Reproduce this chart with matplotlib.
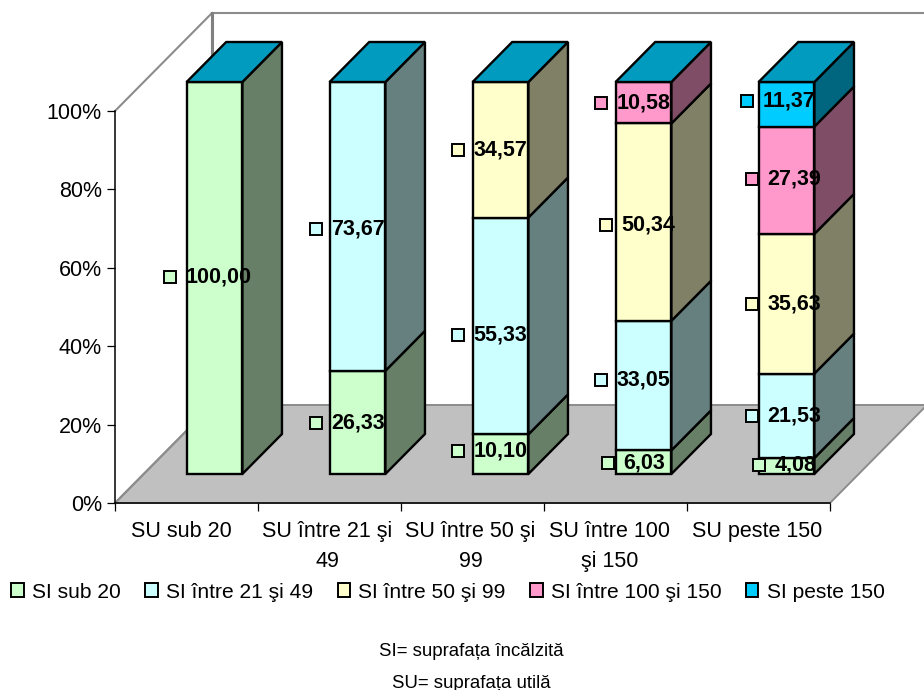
import matplotlib
matplotlib.use("Agg")
import matplotlib.pyplot as plt
from matplotlib.patches import Polygon, Patch
from matplotlib.transforms import Affine2D

plt.rcParams['font.family'] = ['Liberation Sans', 'DejaVu Sans']

W, H = 924, 690
categories = ["SU sub 20", "SU între 21 şi\n49", "SU între 50 şi\n99", "SU între 100\nşi 150", "SU peste 150"]
series_names = ["SI sub 20", "SI între 21 şi 49", "SI între 50 şi 99", "SI între 100 şi 150", "SI peste 150"]
si_sub_20 = [100.00, 26.33, 10.10, 6.03, 4.08]
si_21_49 = [0, 73.67, 55.33, 33.05, 21.53]
si_50_99 = [0, 0, 34.57, 50.34, 35.63]
si_100_150 = [0, 0, 0, 10.58, 27.39]
si_peste_150 = [0, 0, 0, 0, 11.37]
series = [si_sub_20, si_21_49, si_50_99, si_100_150, si_peste_150]
yticks = [0, 20, 40, 60, 80, 100]
ytick_labels = ["0%", "20%", "40%", "60%", "80%", "100%"]

front = ["#CCFFCC", "#CCFFFF", "#FFFFCC", "#FF99CC", "#00CCFF"]
side = ["#667F66", "#668080", "#808066", "#804D66", "#006680"]
top_col = "#009BBF"
wall = "#8C8C8C"

# pixel nudges of each label from the bar centre / segment middle, by series then category
nudge_x = [[3, 0, -1, 0, 8], [0, 0, -1, -1, 7], [0, 0, -1, 4, 7], [0, 0, 0, -1, 7], [0, 0, 0, 0, 2]]
nudge_y = [[1, -1, 3, -1, 1], [0, -3, -9, 6, 0], [0, 0, 0, -3, 0], [0, 0, 0, 0, 1], [0, 0, 0, 0, 3]]
tick_nudge = [-5, -2, -2, -6, -1]

fig = plt.figure(figsize=(W / 100, H / 100), dpi=100)
L, R, T, B = 115, 830, 111, 503
ax = fig.add_axes([L / W, 1 - B / H, (R - L) / W, (B - T) / H])
ax.set_xlim(0, 5)
ax.set_ylim(0, 100)
ax.patch.set_visible(False)
FS = 15.5

DX = 97 / 143
DY = 25.0


def P(x, y, d):
    return (x + d * DX, y + d * DY)


def poly(pts, fc, ec, lw, z):
    ax.add_patch(Polygon(pts, closed=True, facecolor=fc, edgecolor=ec, lw=lw, zorder=z,
                         clip_on=False, joinstyle='miter'))


# floor and walls
poly([P(0, 0, 0), P(5, 0, 0), P(5, 0, 1), P(0, 0, 1)], "#C0C0C0", wall, 1.4, 1)
xmax = 5 + (924 - R) / 143
ax.plot(*zip(P(0, 0, 0), P(0, 0, 1), P(0, 100, 1), P(0, 100, 0)), color=wall, lw=1.5, zorder=1.5, clip_on=False)
ax.plot(*zip(P(0, 100, 1), (xmax, 100 + DY)), color=wall, lw=1.5, zorder=1.5, clip_on=False)
ax.plot(*zip(P(0, 0, 1), P(0, 100, 1)), color="#808080", lw=2.2, zorder=1.5, clip_on=False)

# bars
D0, D1 = 29 / 98, 69 / 98
BW = 0.195
z = 2
for c in range(5):
    x0, x1 = c + 0.495 - BW, c + 0.495 + BW
    base = 0
    for s, vals in enumerate(series):
        v = vals[c]
        if v > 0:
            t = base + v
            poly([P(x1, base, D0), P(x1, base, D1), P(x1, t, D1), P(x1, t, D0)], side[s], "black", 1.7, z)
            poly([P(x0, base, D0), P(x1, base, D0), P(x1, t, D0), P(x0, t, D0)], front[s], "black", 1.7, z)
            base = t
    poly([P(x0, 100, D0), P(x1, 100, D0), P(x1, 100, D1), P(x0, 100, D1)], top_col, "black", 1.7, z)
    z += 0.1

# data labels with legend keys
for c in range(5):
    base = 0
    for s, vals in enumerate(series):
        v = vals[c]
        if v > 0:
            xy = P(c + 0.5, base + v / 2, D0)
            base += v
            txt = f"{v:.2f}".replace(".", ",")
            ax.annotate(txt, xy=xy, xytext=(nudge_x[s][c], nudge_y[s][c]),
                        textcoords='offset pixels', ha='center', va='center',
                        fontsize=FS, fontweight='bold', color='black', zorder=5, annotation_clip=False)
            half = (len(txt) * 12 - 6) / 2
            ax.plot([xy[0]], [xy[1]], marker='s', ms=8.4, mfc=front[s], mec='black', mew=1.4, zorder=4.9, clip_on=False,
                    transform=ax.transData + Affine2D().translate(nudge_x[s][c] - half - 15, nudge_y[s][c]))

# axes
for sp in ("top", "right"):
    ax.spines[sp].set_visible(False)
for sp in ("left", "bottom"):
    ax.spines[sp].set_linewidth(1.1)
    ax.spines[sp].set_zorder(1.8)
ax.set_yticks(yticks, ytick_labels, fontsize=FS)
ax.tick_params(axis='y', length=5.5, width=0.9, pad=4)
ax.set_xticks(range(6), [""] * 6)
ax.tick_params(axis='x', which='major', length=6, width=0.9)
ax.set_xticks([i + 0.5 for i in range(5)], categories, minor=True, fontsize=FS, linespacing=1.56, va='top')
ax.tick_params(axis='x', which='minor', length=0, pad=13)
for lab, n in zip(ax.get_xticklabels(minor=True), tick_nudge):
    lab.set_transform(lab.get_transform() + Affine2D().translate(n, 0))

# legend
handles = [Patch(facecolor=f, edgecolor='black', lw=1.4) for f in front]
fig.legend(handles, series_names, ncol=5, loc='center', bbox_to_anchor=(448 / W, 1 - 592 / H),
           frameon=False, fontsize=15.1, handlelength=0.6, handleheight=0.6, handletextpad=0.4,
           columnspacing=1.15, borderpad=0, borderaxespad=0)

# notes
fig.text(471 / W, 1 - 651 / H, "SI= suprafața încălzită", ha='center', va='center', fontsize=13.4)
fig.text(471 / W, 1 - 683 / H, "SU= suprafața utilă", ha='center', va='center', fontsize=13.4)

fig.savefig("out.png", dpi=100)
